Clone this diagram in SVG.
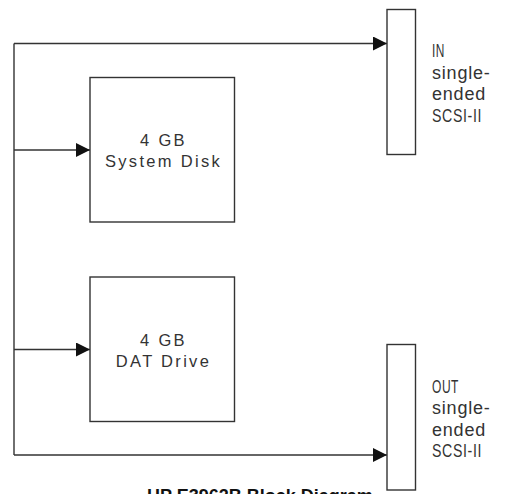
<svg xmlns="http://www.w3.org/2000/svg" width="505" height="494" viewBox="0 0 505 494">
<style>
.box{fill:#fff;stroke:#333;stroke-width:1.4}
.wire{fill:none;stroke:#333;stroke-width:1.4}
.bt{font-family:"Liberation Sans",Arial,sans-serif;font-size:16.5px;fill:#333;letter-spacing:2.3px;text-anchor:middle}
.lt{font-family:"Liberation Sans",Arial,sans-serif;font-size:18px;fill:#333;letter-spacing:0.8px}
.title{font-family:"Liberation Sans",Arial,sans-serif;font-size:18px;font-weight:bold;fill:#111}
</style>
<defs>
<marker id="arr" markerUnits="userSpaceOnUse" markerWidth="14" markerHeight="14" refX="14" refY="7" orient="auto">
<path d="M0,0 L14,7 L0,14 Z" fill="#111"/>
</marker>
</defs>
<g id="connectors">
<path class="wire" d="M14,43.5 V455"/>
<path class="wire" d="M14,43.5 H387" marker-end="url(#arr)"/>
<path class="wire" d="M14,150 H90" marker-end="url(#arr)"/>
<path class="wire" d="M14,349.5 H90" marker-end="url(#arr)"/>
<path class="wire" d="M14,455 H387" marker-end="url(#arr)"/>
</g>
<g id="system-disk">
<rect class="box" x="90" y="77.5" width="144.5" height="144.5"/>
<text class="bt" x="163.5" y="146">4 GB</text>
<text class="bt" x="163.5" y="166.5">System Disk</text>
</g>
<g id="dat-drive">
<rect class="box" x="90" y="277" width="144.5" height="144.5"/>
<text class="bt" x="163.5" y="346">4 GB</text>
<text class="bt" x="163.5" y="366.5">DAT Drive</text>
</g>
<g id="scsi-in">
<rect class="box" x="387" y="9.5" width="28.5" height="145"/>
<text class="lt" x="432" y="57" textLength="13" lengthAdjust="spacingAndGlyphs">IN</text>
<text class="lt" x="432" y="78.5">single-</text>
<text class="lt" x="432" y="100">ended</text>
<text class="lt" x="432" y="121.5" textLength="50" lengthAdjust="spacingAndGlyphs">SCSI-II</text>
</g>
<g id="scsi-out">
<rect class="box" x="387" y="344.5" width="28.5" height="145.5"/>
<text class="lt" x="432" y="392.5" textLength="27" lengthAdjust="spacingAndGlyphs">OUT</text>
<text class="lt" x="432" y="414">single-</text>
<text class="lt" x="432" y="435.5">ended</text>
<text class="lt" x="432" y="457" textLength="50" lengthAdjust="spacingAndGlyphs">SCSI-II</text>
</g>
<g id="title">
<text class="title" x="147" y="502">HP E3962B Block Diagram</text>
</g>
</svg>
